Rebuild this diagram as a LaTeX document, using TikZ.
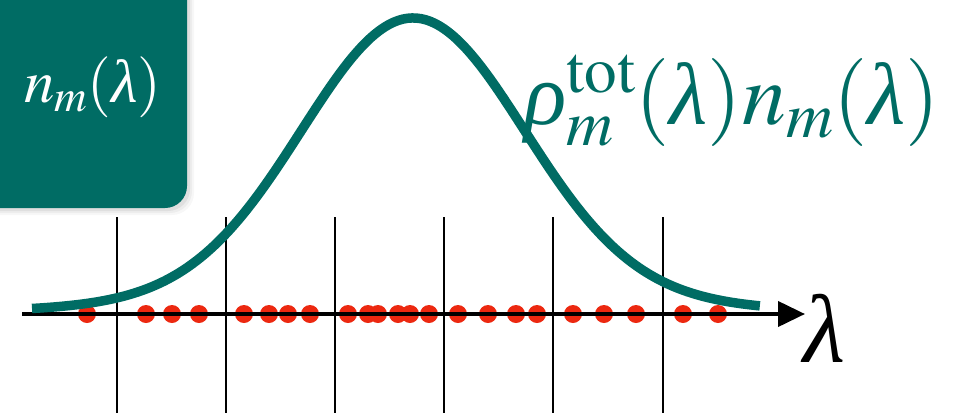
\documentclass[tikz,border=0pt]{standalone}
\usepackage{mathptmx}
\usepackage{fontspec}
\setmainfont{Liberation Serif}
\usetikzlibrary{arrows.meta,positioning}
\definecolor{tealgreen}{RGB}{0,108,100}
\definecolor{dotred}{RGB}{236,40,16}
\newcommand{\glam}{\mbox{\itshape λ}}
\newcommand{\grho}{\mbox{\itshape ρ}}

\begin{document}
\begin{tikzpicture}[x=1pt,y=-1pt,
  curve/.style={line width=9.5pt,tealgreen},
  gridline/.style={line width=2.2pt,black},
  sample/.style={fill=dotred}]
  \useasboundingbox (0,0) rectangle (978,413);
  \clip (0,0) rectangle (978,413);
  % corner box with a soft shadow
  \foreach \s/\o in {7/0.03,5/0.04,3/0.06}
    \fill[black,opacity=\o,rounded corners=22pt] (-40,-40) rectangle ({187+\s},{208+\s});
  \fill[tealgreen,rounded corners=22pt] (-40,-40) rectangle (187,208);
  \node[anchor=base west,inner sep=0pt,white,font=\fontsize{61}{66}\selectfont]
    (boxlabel) at (24,102) {$n_m(\glam)$};
  % bins
  \foreach \x in {117,226,335,444,553,663}
    \draw[gridline] (\x,217) -- (\x,413);
  % samples
  \foreach \x in {87,146,172,199,244,269,288,310,348,368,378,398,410,429,458,488,516,537,573,604,636,683,718}
    \fill[sample] (\x,314) circle[radius=9pt];
  % axis
  \coordinate (axstart) at (22,314);
  \coordinate (axend) at (805,314);
  \draw[line width=4pt,-{Triangle[length=27pt,width=25pt]}] (axstart) -- (axend);
  \node[anchor=base west,inner sep=0pt,font=\fontsize{97}{100}\selectfont]
    (axlabel) at (803,362) {$\glam$};
  % weighted density (t in units of 100px from the peak)
  \draw[curve] plot[domain=-3.81:3.47,samples=160,variable=\t]
    ({413+100*\t},{313-295*(0.92*exp(-\t*\t/2.42)+0.08*exp(-\t*\t/8))});
  \node[anchor=base west,inner sep=0pt,tealgreen,font=\fontsize{88}{92}\selectfont]
    (curvelabel) at (524,124) {$\grho_m^{\mathrm{tot}}(\glam)n_m(\glam)$};
\end{tikzpicture}
\end{document}
